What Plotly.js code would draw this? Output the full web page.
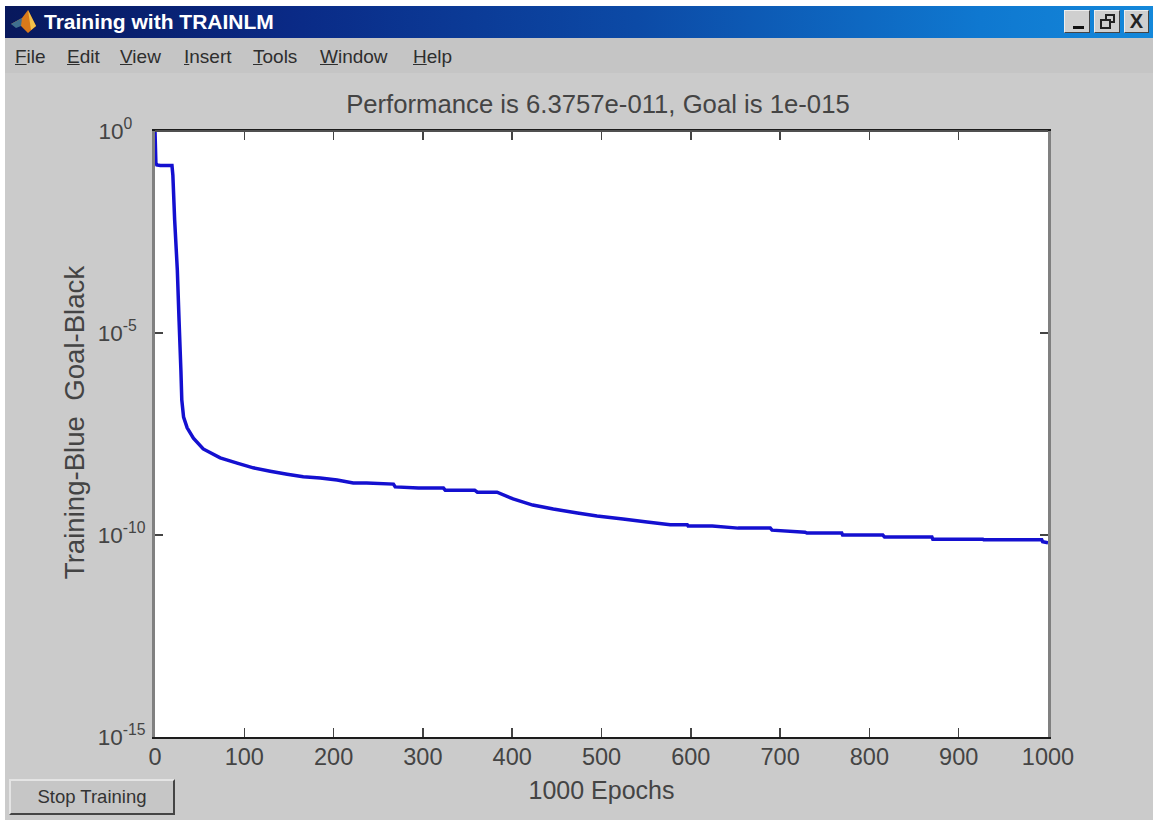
<!DOCTYPE html>
<html>
<head>
<meta charset="utf-8">
<script src="https://cdn.plot.ly/plotly-3.0.1.min.js"></script>
<style>
html,body{margin:0;padding:0;background:#fff;overflow:hidden}
#wrap{position:relative;width:1153px;height:820px;background:#cbcbcb;overflow:hidden}
#chart{position:absolute;left:0;top:0;width:1153px;height:820px}
.ch{position:absolute;font-family:"Liberation Sans",Arial,sans-serif;white-space:nowrap}
#whiteTop{left:0;top:0;width:1153px;height:6px;background:#fff}
#whiteLeft{left:0;top:0;width:5px;height:820px;background:#fff}
#bar{left:5px;top:6px;width:1148px;height:32px;background:linear-gradient(90deg,#08185c 0%,#0a2a86 25%,#0c4aa6 55%,#0f78d0 85%,#1488da 100%)}
#barText{left:44px;top:10px;color:#fff;font-weight:bold;font-size:21px;line-height:24px}
#menu{left:5px;top:38px;width:1148px;height:35px;background:#c5c5c5}
.mi{top:45px;font-size:19px;line-height:24px;color:#2e2e2e}
.wb{top:10px;height:23px;background:#cfcfcf;border:1px solid;border-color:#eee #444 #444 #eee;box-sizing:border-box}
#stop{left:9px;top:779px;width:166px;height:36px;box-sizing:border-box;background:#c6c6c6;border:2px solid;border-color:#e4e4e4 #444 #444 #e4e4e4;color:#333;font-size:18.5px;line-height:32px;text-align:center}
</style>
</head>
<body>
<div id="wrap">
<div id="chart"></div>
<div class="ch" id="whiteTop"></div>
<div class="ch" id="whiteLeft"></div>
<div class="ch" id="bar"></div>
<svg class="ch" style="left:9px;top:9px" width="28" height="26" viewBox="0 0 28 26">
<polygon points="2,15 13,9 19,1 27,17 19,24 12,17" fill="#d9791a"/>
<polygon points="2,15 13,9 12,17 7,19" fill="#3f6f8f"/>
<polygon points="19,1 27,17 22,21" fill="#f2c04a"/>
</svg>
<div class="ch" id="barText">Training with TRAINLM</div>
<div class="ch" id="menu"></div>
<div class="ch mi" style="left:15px"><u>F</u>ile</div>
<div class="ch mi" style="left:67px"><u>E</u>dit</div>
<div class="ch mi" style="left:120px"><u>V</u>iew</div>
<div class="ch mi" style="left:184px"><u>I</u>nsert</div>
<div class="ch mi" style="left:253px"><u>T</u>ools</div>
<div class="ch mi" style="left:320px"><u>W</u>indow</div>
<div class="ch mi" style="left:413px"><u>H</u>elp</div>
<div class="ch wb" style="left:1064px;width:26px"><div style="position:absolute;left:8px;top:15px;width:11px;height:3px;background:#111"></div></div>
<div class="ch wb" style="left:1094px;width:26px"><div style="position:absolute;left:10px;top:3px;width:10px;height:9px;border:2px solid #222;box-sizing:border-box"></div><div style="position:absolute;left:5px;top:8px;width:11px;height:10px;border:2px solid #222;box-sizing:border-box;background:#cfcfcf"></div></div>
<div class="ch wb" style="left:1124px;width:25px;font-weight:bold;font-size:20px;line-height:21px;text-align:center;color:#222">X</div>
<div class="ch" id="stop">Stop Training</div>
</div>
<script>
const epochs = [0,1,2,6,19,20,22,25,27,29,30,32,36,43,54,73,92,110,129,148,166,185,204,222,237,267,269,295,323,325,358,361,383,401,423,446,473,495,524,551,577,596,597,624,653,689,691,728,730,769,770,815,817,870,871,927,928,993,994,1000];
const performance_ = [1,1.6e-1,1.45e-1,1.4e-1,1.4e-1,8.1e-2,6.3e-3,3.6e-4,1.9e-5,1.2e-6,2.2e-7,8.3e-8,4.5e-8,2.5e-8,1.35e-8,8.1e-9,6e-9,4.6e-9,3.8e-9,3.2e-9,2.75e-9,2.57e-9,2.3e-9,1.95e-9,1.95e-9,1.82e-9,1.55e-9,1.45e-9,1.45e-9,1.29e-9,1.29e-9,1.15e-9,1.15e-9,7.8e-10,5.5e-10,4.4e-10,3.5e-10,2.95e-10,2.5e-10,2.1e-10,1.8e-10,1.8e-10,1.66e-10,1.66e-10,1.48e-10,1.48e-10,1.32e-10,1.17e-10,1.12e-10,1.12e-10,1e-10,1e-10,8.9e-11,8.9e-11,7.9e-11,7.9e-11,7.6e-11,7.6e-11,6.8e-11,6.38e-11];
const xTickVals = [0,100,200,300,400,500,600,700,800,900,1000];
const yTickVals = [1,1e-5,1e-10,1e-15];
const yTickText = ['10<sup>0\u00a0\u00a0\u00a0</sup>','10<sup>-5\u00a0\u00a0</sup>','10<sup>-10</sup>','10<sup>-15</sup>'];
const chartTitle = 'Performance is 6.3757e-011, Goal is 1e-015';
const xTitle = '1000 Epochs';
const yTitle = '<span>\u00a0\u00a0\u00a0</span>Training-Blue\u00a0\u00a0Goal-Black';

const textColor = '#444444';
const fontFamily = '"Liberation Sans", Arial, sans-serif';
Plotly.newPlot('chart', [{
  x: epochs, y: performance_, type: 'scatter', mode: 'lines',
  line: {color: '#1410d0', width: 3.5, simplify: false}, hoverinfo: 'skip'
}], {
  width: 1153, height: 820,
  paper_bgcolor: '#cbcbcb', plot_bgcolor: '#ffffff',
  margin: {l: 155, r: 105, t: 131, b: 83, pad: 0},
  showlegend: false,
  font: {family: fontFamily, color: textColor, size: 23},
  title: {text: chartTitle, font: {size: 25.7, color: textColor}, x: 0.496, xanchor: 'center', xref: 'paper', y: 0.873, yanchor: 'middle', yref: 'container'},
  xaxis: {
    range: [0, 1000], tickmode: 'array', tickvals: xTickVals, ticktext: xTickVals.map(String),
    showgrid: false, zeroline: false, showline: true, mirror: 'ticks',
    linecolor: '#1c1c1c', linewidth: 2, ticks: 'inside', ticklen: 9, tickwidth: 1.5, tickcolor: '#444',
    tickfont: {size: 23.5, color: textColor}, ticklabelstandoff: -2,
    title: {text: xTitle, font: {size: 25, color: textColor}, standoff: 12}
  },
  yaxis: {
    type: 'log', range: [-15, 0], tickmode: 'array', tickvals: yTickVals, ticktext: yTickText,
    showgrid: false, zeroline: false, showline: true, mirror: 'ticks',
    linecolor: '#808080', linewidth: 3, ticks: 'inside', ticklen: 8, tickwidth: 1.5, tickcolor: '#444',
    tickfont: {size: 22.5, color: textColor}, ticklabelstandoff: 2,
    title: {text: yTitle, font: {size: 27.6, color: textColor}, standoff: 6}
  },
  shapes: [{type: 'line', xref: 'paper', yref: 'paper', x0: 0, x1: 1, y0: 1, y1: 1, line: {color: '#505050', width: 2}}]
}, {displayModeBar: false, staticPlot: true});
</script>
</body>
</html>
